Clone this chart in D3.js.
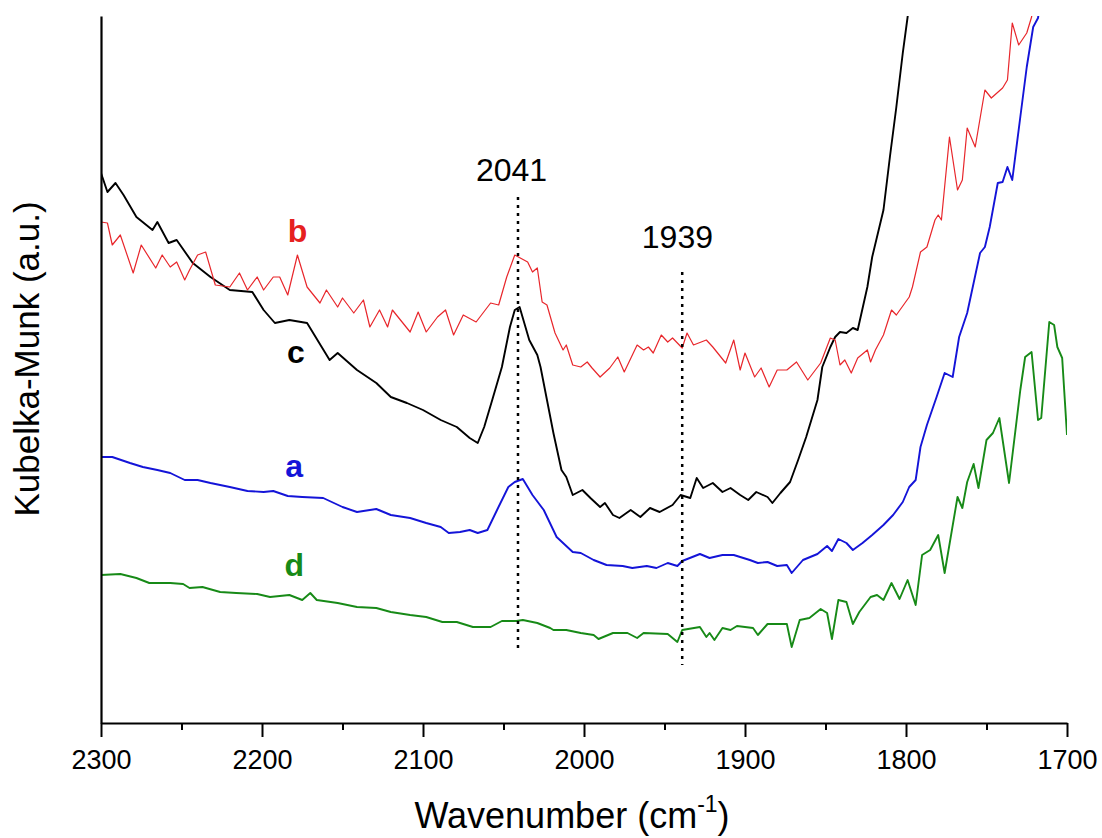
<!DOCTYPE html>
<html>
<head>
<meta charset="utf-8">
<script src="https://cdn.jsdelivr.net/npm/d3@7"></script>
<style>
  html, body { margin: 0; padding: 0; background: #fff; }
  svg { display: block; font-family: "Liberation Sans", Arial, sans-serif; }
</style>
</head>
<body>
<svg id="chart" width="1102" height="838"></svg>
<script>
// ---- Data (wavenumber in cm^-1, Kubelka-Munk in arbitrary units) ----
const xTicksMajor = [2300, 2200, 2100, 2000, 1900, 1800, 1700];
const xTicksMinor = [2250, 2150, 2050, 1950, 1850, 1750];

// curve a (blue)
const wnA = [2300,2293,2282,2274,2265,2257,2248,2240,2232,2220,2209,2199,2193,2184,2175,2162,2150,2141,2129,2120,2108,2098,2089,2084,2077,2071,2066,2060,2054,2047,2043,2038,2032,2025,2017,2007,2002,1994,1986,1976,1970,1961,1955,1948,1942,1939,1928,1922,1914,1907,1897,1892,1886,1880,1874,1871,1864,1855,1849,1846,1842,1837,1833,1827,1821,1814,1808,1802,1798,1794,1791,1787,1781,1776,1771,1767,1762,1758,1754,1751,1748,1743,1740,1737,1734,1729,1725,1721,1718,1715];
const kmA = [2.66,2.66,2.60,2.56,2.53,2.50,2.43,2.43,2.40,2.36,2.32,2.31,2.32,2.27,2.26,2.25,2.16,2.11,2.14,2.08,2.05,2.00,1.96,1.90,1.91,1.93,1.90,1.93,2.13,2.36,2.41,2.44,2.28,2.13,1.86,1.71,1.70,1.63,1.58,1.57,1.55,1.57,1.55,1.60,1.57,1.62,1.69,1.65,1.68,1.68,1.63,1.60,1.61,1.57,1.58,1.50,1.63,1.69,1.77,1.72,1.84,1.80,1.73,1.80,1.88,1.98,2.08,2.21,2.36,2.43,2.76,2.98,3.26,3.50,3.46,3.86,4.10,4.40,4.70,4.76,4.96,5.40,5.41,5.56,5.43,6.06,6.56,6.96,7.05,7.40];

// curve b (red)
const wnB = [2300,2296,2293,2288,2280,2275,2266,2262,2257,2253,2248,2245,2240,2235,2229,2220,2214,2209,2203,2199,2193,2189,2184,2178,2172,2164,2160,2153,2150,2143,2137,2133,2127,2122,2119,2114,2108,2103,2098,2091,2086,2081,2075,2067,2058,2053,2048,2043,2035,2032,2029,2026,2023,2018,2013,2011,2007,2002,1998,1995,1990,1984,1979,1975,1967,1963,1960,1957,1952,1948,1945,1939,1936,1932,1924,1920,1912,1907,1903,1900,1894,1890,1885,1880,1874,1868,1861,1853,1847,1844,1841,1838,1834,1830,1824,1822,1819,1814,1809,1806,1798,1796,1791,1787,1782,1780,1778,1773,1768,1765,1762,1757,1751,1747,1740,1737,1734,1730,1725,1722,1717];
const kmB = [5.01,5.00,4.78,4.88,4.50,4.78,4.55,4.68,4.56,4.61,4.43,4.53,4.68,4.71,4.38,4.36,4.50,4.33,4.46,4.33,4.46,4.46,4.28,4.68,4.36,4.20,4.33,4.16,4.25,4.10,4.23,3.96,4.13,3.96,4.13,4.03,3.91,4.11,3.91,4.06,4.13,3.88,4.08,4.01,4.20,4.18,4.46,4.68,4.61,4.51,4.55,4.21,4.18,3.90,3.73,3.78,3.58,3.56,3.61,3.55,3.46,3.55,3.66,3.51,3.78,3.73,3.76,3.70,3.88,3.81,3.85,3.75,3.90,3.78,3.83,3.76,3.60,3.83,3.53,3.70,3.46,3.55,3.36,3.53,3.53,3.61,3.43,3.60,3.85,3.83,3.58,3.63,3.50,3.65,3.73,3.61,3.73,3.88,4.13,4.08,4.26,4.36,4.71,4.76,5.03,5.08,5.03,5.86,5.33,5.43,5.95,5.76,6.33,6.25,6.35,6.43,7.00,6.78,6.90,7.06,7.50];

// curve c (black)
const wnC = [2300,2296,2291,2286,2278,2268,2265,2258,2253,2243,2232,2220,2206,2199,2192,2183,2172,2158,2153,2141,2129,2120,2110,2100,2089,2079,2071,2066,2062,2057,2051,2046,2043,2040,2034,2029,2027,2023,2019,2014,2011,2007,2001,1996,1990,1987,1982,1978,1971,1965,1959,1953,1945,1940,1934,1930,1926,1920,1914,1909,1903,1898,1893,1886,1883,1878,1872,1867,1862,1855,1852,1847,1844,1841,1837,1833,1830,1824,1821,1814,1810,1806,1802,1799,1795];
const kmC = [5.50,5.31,5.40,5.28,5.06,4.93,5.01,4.80,4.83,4.60,4.46,4.33,4.31,4.13,4.00,4.03,4.00,3.63,3.70,3.53,3.40,3.26,3.20,3.13,3.03,2.96,2.85,2.80,2.96,3.23,3.56,3.96,4.13,4.16,3.83,3.68,3.56,3.23,2.90,2.53,2.46,2.28,2.33,2.25,2.16,2.20,2.08,2.05,2.13,2.06,2.15,2.11,2.18,2.28,2.25,2.45,2.35,2.40,2.31,2.35,2.28,2.23,2.31,2.26,2.20,2.30,2.41,2.63,2.86,3.23,3.56,3.76,3.86,3.91,3.90,3.95,3.93,4.36,4.66,5.13,5.66,6.16,6.70,7.06,7.60];

// curve d (green)
const wnD = [2300,2288,2278,2270,2257,2249,2245,2237,2226,2216,2203,2195,2183,2175,2170,2166,2153,2141,2129,2120,2108,2098,2088,2079,2069,2058,2051,2042,2038,2029,2021,2019,2011,2002,1994,1991,1982,1973,1967,1963,1948,1942,1939,1928,1924,1922,1919,1914,1909,1905,1895,1892,1886,1874,1871,1866,1860,1853,1849,1846,1842,1837,1833,1829,1822,1818,1814,1809,1804,1799,1794,1790,1785,1780,1776,1768,1765,1762,1758,1755,1750,1746,1742,1736,1729,1726,1722,1718,1716,1711,1708,1706,1703,1700];
const kmD = [1.48,1.49,1.45,1.40,1.40,1.39,1.35,1.36,1.31,1.30,1.29,1.26,1.28,1.23,1.30,1.23,1.20,1.16,1.15,1.11,1.08,1.06,1.01,1.01,0.96,0.96,1.02,1.02,1.03,1.00,0.95,0.93,0.93,0.90,0.88,0.84,0.90,0.90,0.85,0.90,0.89,0.81,0.93,0.96,0.86,0.90,0.83,0.95,0.93,0.97,0.95,0.88,0.99,0.99,0.76,1.03,1.05,1.14,1.10,0.84,1.23,1.21,0.99,1.11,1.26,1.28,1.23,1.40,1.24,1.43,1.18,1.68,1.73,1.88,1.50,2.26,2.15,2.41,2.59,2.35,2.83,2.90,3.05,2.40,3.33,3.66,3.71,3.03,3.05,4.01,3.98,3.76,3.65,2.88];

// peak markers
const peakPos = [2041, 1939];
const peakLabel = ["2041", "1939"];
const peakTop = [5.26, 4.51];
const peakBottom = [0.70, 0.58];
const peakLabelX = [2045, 1942];
const peakLabelY = [5.42, 4.75];

// curve labels
const curveNames = ["b", "c", "a", "d"];
const curveLabelX = [2178, 2179, 2180, 2180];
const curveLabelY = [4.81, 3.60, 2.46, 1.47];
const curveColors = ["#e62020", "#000000", "#1414d8", "#178a17"];

// ---- Drawing ----
const svg = d3.select("#chart");
const x = d3.scaleLinear().domain([2300, 1700]).range([101, 1067]);
const y = d3.scaleLinear().domain([0, 7.07]).range([723, 16]);

svg.append("defs").append("clipPath").attr("id", "clip")
  .append("rect").attr("x", 101).attr("y", 16).attr("width", 966).attr("height", 707);

const line = d3.line().x(d => x(d[0])).y(d => y(d[1]));
const series = [
  {wn: wnD, km: kmD, color: "#178a17", w: 1.9},
  {wn: wnA, km: kmA, color: "#1414d8", w: 1.9},
  {wn: wnC, km: kmC, color: "#000000", w: 1.9},
  {wn: wnB, km: kmB, color: "#e8262b", w: 1.2}
];
const g = svg.append("g").attr("clip-path", "url(#clip)");
series.forEach(s => {
  g.append("path")
    .datum(d3.zip(s.wn, s.km))
    .attr("fill", "none")
    .attr("stroke", s.color)
    .attr("stroke-width", s.w)
    .attr("stroke-linejoin", "round")
    .attr("d", line);
});

// dotted peak lines
peakPos.forEach((p, i) => {
  svg.append("line")
    .attr("x1", x(p)).attr("x2", x(p))
    .attr("y1", y(peakTop[i])).attr("y2", y(peakBottom[i]))
    .attr("stroke", "#000").attr("stroke-width", 2.5)
    .attr("stroke-dasharray", "3,5");
  svg.append("text")
    .attr("x", x(peakLabelX[i])).attr("y", y(peakLabelY[i]))
    .attr("text-anchor", "middle")
    .attr("font-size", 32)
    .attr("fill", "#000")
    .text(peakLabel[i]);
});

// curve labels
curveNames.forEach((n, i) => {
  svg.append("text")
    .attr("x", x(curveLabelX[i])).attr("y", y(curveLabelY[i]))
    .attr("text-anchor", "middle")
    .attr("font-size", 32)
    .attr("font-weight", "bold")
    .attr("fill", curveColors[i])
    .text(n);
});

// axes
const axMinor = d3.axisBottom(x).tickValues(xTicksMinor).tickSize(7).tickFormat("");
const gMinor = svg.append("g").attr("transform", "translate(0,723)").call(axMinor);
gMinor.select(".domain").remove();
gMinor.selectAll("line").attr("stroke-width", 2);

const axMajor = d3.axisBottom(x).tickValues(xTicksMajor).tickSize(14).tickSizeOuter(0)
  .tickPadding(13).tickFormat(d3.format("d"));
const gMajor = svg.append("g").attr("transform", "translate(0,723)").call(axMajor);
gMajor.select(".domain").attr("stroke-width", 2.2);
gMajor.selectAll("line").attr("stroke-width", 2);
gMajor.selectAll("text").attr("font-size", 27).attr("font-family", "'Liberation Sans', Arial, sans-serif").attr("fill", "#000");

// y axis line (no ticks)
const axY = d3.axisLeft(y).tickValues([]).tickSizeOuter(0);
const gY = svg.append("g").attr("transform", "translate(101,0)").call(axY);
gY.select(".domain").attr("stroke-width", 2.2);

// axis titles
const xt = svg.append("text")
  .attr("x", 572).attr("y", 828)
  .attr("text-anchor", "middle")
  .attr("font-size", 36)
  .attr("fill", "#000");
xt.append("tspan").text("Wavenumber (cm");
xt.append("tspan").attr("font-size", 23).attr("dy", -16).text("-1");
xt.append("tspan").attr("dy", 16).text(")");

svg.append("text")
  .attr("transform", "translate(39,359) rotate(-90)")
  .attr("text-anchor", "middle")
  .attr("font-size", 35)
  .attr("fill", "#000")
  .text("Kubelka-Munk (a.u.)");
</script>
</body>
</html>
